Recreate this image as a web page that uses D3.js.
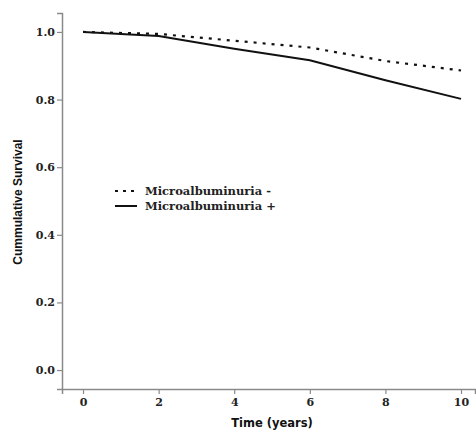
<!DOCTYPE html>
<html>
<head>
<meta charset="utf-8">
<script src="https://cdn.jsdelivr.net/npm/d3@7"></script>
<style>
  html, body { margin: 0; padding: 0; background: #fff; }
  svg { display: block; }
</style>
</head>
<body>
<svg id="chart" width="476" height="431"></svg>
<script>
// ---- data ----
const years = [0, 2, 4, 6, 8, 10];
const survivalNeg = [1.0, 0.994, 0.974, 0.954, 0.914, 0.886];
const survivalPos = [1.0, 0.988, 0.950, 0.916, 0.857, 0.802];
const seriesNames = ["Microalbuminuria -", "Microalbuminuria +"];
const xTicks = [0, 2, 4, 6, 8, 10];
const yTicks = [0.0, 0.2, 0.4, 0.6, 0.8, 1.0];

const svg = d3.select("#chart");

const x = d3.scaleLinear().domain([-0.556, 10.37]).range([62, 475]);
const y = d3.scaleLinear().domain([-0.056, 1.056]).range([389, 13]);

const axisColor = "#8a8a8a";
const serif = "'DejaVu Serif', serif";

// y axis
const gy = svg.append("g").attr("transform", `translate(${x.range()[0]},0)`)
  .call(d3.axisLeft(y).tickValues(yTicks).tickFormat(d3.format(".1f")).tickSizeOuter(0).tickSize(5).tickPadding(2));
gy.select(".domain").attr("stroke", axisColor).attr("stroke-width", 1.5);
gy.selectAll(".tick line").attr("stroke", axisColor).attr("stroke-width", 1.2);
gy.selectAll(".tick text").attr("fill", "#222").style("font-family", serif)
  .style("font-weight", "bold").style("font-size", "11px");

// x axis
const gx = svg.append("g").attr("transform", `translate(0,${y.range()[0]})`)
  .call(d3.axisBottom(x).tickValues(xTicks).tickFormat(d3.format("d")).tickSizeOuter(0).tickSize(5).tickPadding(4));
gx.select(".domain").attr("stroke", axisColor).attr("stroke-width", 1.5);
gx.selectAll(".tick line").attr("stroke", axisColor).attr("stroke-width", 1.2);
gx.selectAll(".tick text").attr("fill", "#222").style("font-family", serif)
  .style("font-weight", "bold").style("font-size", "11px");

// axis titles
svg.append("text")
  .attr("x", (x(0) + x(10)) / 2 + 0).attr("y", 427)
  .attr("text-anchor", "middle")
  .style("font-family", "'DejaVu Sans', sans-serif").style("font-weight", "bold").style("font-size", "11.5px")
  .attr("fill", "#111")
  .text("Time (years)");

svg.append("text")
  .attr("transform", `translate(22,${y(0.5) + 1}) rotate(-90)`)
  .attr("text-anchor", "middle")
  .style("font-family", "'Liberation Sans', Arial, sans-serif").style("font-weight", "bold").style("font-size", "12px")
  .attr("fill", "#111")
  .text("Cummulative Survival");

// lines
const line = d3.line().x(d => x(d[0])).y(d => y(d[1]));
const negData = years.map((t, i) => [t, survivalNeg[i]]);
const posData = years.map((t, i) => [t, survivalPos[i]]);

svg.append("path").datum(negData).attr("d", line)
  .attr("fill", "none").attr("stroke", "#111").attr("stroke-width", 2.2)
  .attr("stroke-dasharray", "3,6");
svg.append("path").datum(posData).attr("d", line)
  .attr("fill", "none").attr("stroke", "#111").attr("stroke-width", 2);

// legend
const legend = svg.append("g").attr("transform", "translate(115,191)");
const styles = [{dash: "3,5", w: 2.2}, {dash: null, w: 2}];
seriesNames.forEach((name, i) => {
  const g = legend.append("g").attr("transform", `translate(0,${i * 15})`);
  g.append("line").attr("x1", 0).attr("x2", 22).attr("y1", 0).attr("y2", 0)
    .attr("stroke", "#111").attr("stroke-width", styles[i].w)
    .attr("stroke-dasharray", styles[i].dash);
  g.append("text").attr("x", 30).attr("y", 0).attr("dy", "0.35em")
    .style("font-family", serif).style("font-weight", "bold").style("font-size", "11.5px")
    .attr("fill", "#222")
    .text(name);
});
</script>
</body>
</html>
